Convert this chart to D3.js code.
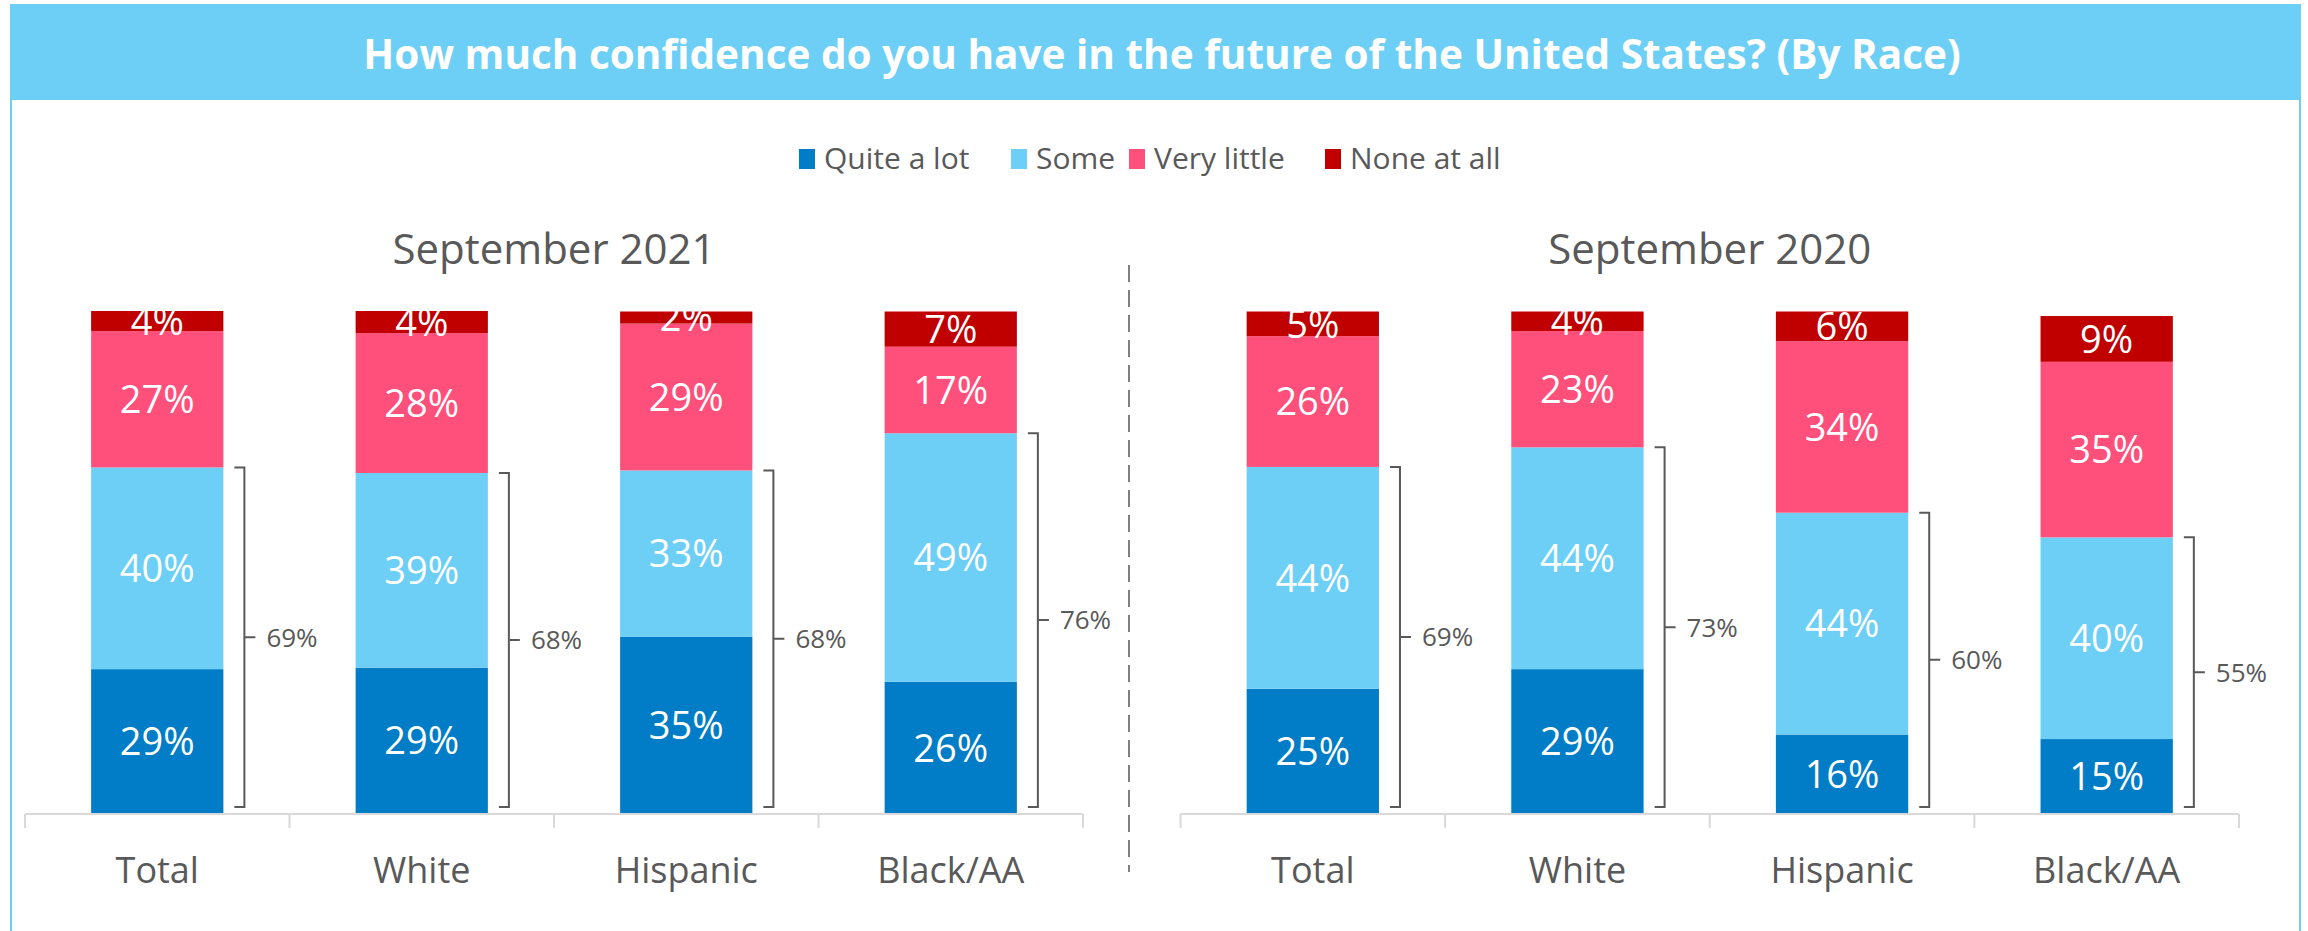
<!DOCTYPE html>
<html>
<head>
<meta charset="utf-8">
<script src="https://cdn.jsdelivr.net/npm/d3@7"></script>
<style>
  html, body { margin: 0; padding: 0; background: #ffffff; }
  svg { display: block; }
  text { font-family: "Open Sans", "Noto Sans", sans-serif; }
</style>
</head>
<body>
<svg id="chart" width="2308" height="931"></svg>
<script>
// ---- data ----
const title = "How much confidence do you have in the future of the United States? (By Race)";
const categories = ["Total", "White", "Hispanic", "Black/AA"];
const seriesNames = ["Quite a lot", "Some", "Very little", "None at all"];
const seriesColors = ["#007DC6", "#6DCFF6", "#FF4F7B", "#C00000"];
const panelTitles = ["September 2021", "September 2020"];

const quiteALot2021 = [28.8, 29.1, 35.2, 26.3];
const some2021      = [40.1, 38.7, 33.1, 49.4];
const veryLittle2021 = [27.1, 27.8, 29.2, 17.2];
const noneAtAll2021 = [4.0, 4.4, 2.4, 7.0];

const quiteALot2020 = [24.9, 28.8, 15.8, 14.9];
const some2020      = [44.1, 44.1, 44.1, 40.1];
const veryLittle2020 = [26.0, 23.1, 34.1, 34.9];
const noneAtAll2020 = [4.9, 3.9, 5.9, 9.1];

const panelSeries = [
  [quiteALot2021, some2021, veryLittle2021, noneAtAll2021],
  [quiteALot2020, some2020, veryLittle2020, noneAtAll2020]
];

// ---- layout ----
const svg = d3.select("#chart");
const W = 2308;
const gray = "#595959";

// frame
svg.append("line").attr("x1", 11).attr("x2", 11).attr("y1", 100).attr("y2", 931)
  .attr("stroke", "#6DCFF6").attr("stroke-width", 2);
svg.append("line").attr("x1", 2300).attr("x2", 2300).attr("y1", 100).attr("y2", 931)
  .attr("stroke", "#6DCFF6").attr("stroke-width", 2);

// title bar
svg.append("rect").attr("x", 10).attr("y", 4).attr("width", 2291).attr("height", 96).attr("fill", "#6DCFF6");
svg.append("text").attr("x", 1162).attr("y", 69).attr("text-anchor", "middle")
  .attr("fill", "#ffffff").attr("font-weight", 700).attr("font-size", 40.5).text(title);

// legend
const legendX = [799, 1011, 1129, 1325];
const leg = svg.append("g");
seriesNames.forEach((s, i) => {
  leg.append("rect").attr("x", legendX[i]).attr("y", 149).attr("width", 16).attr("height", 20)
    .attr("fill", seriesColors[i]);
  leg.append("text").attr("x", legendX[i] + 25).attr("y", 169).attr("font-size", 30)
    .attr("fill", gray).text(s);
});

// y scale (shared)
const y = d3.scaleLinear().domain([0, 100]).range([814, 311]);

const panelRanges = [[25, 1083], [1180.5, 2239]];

svg.append("defs").append("clipPath").attr("id", "plotclip")
  .append("rect").attr("x", 0).attr("y", y(100)).attr("width", W).attr("height", 931 - y(100));

panelRanges.forEach((rng, p) => {
  const x = d3.scaleBand().domain(categories).range(rng).paddingInner(0.5).paddingOuter(0.25);
  const g = svg.append("g");
  const cx = (rng[0] + rng[1]) / 2;

  // panel title
  g.append("text").attr("x", cx).attr("y", 264).attr("text-anchor", "middle")
    .attr("font-size", 42).attr("fill", gray).text(panelTitles[p]);

  // stacked data
  const rows = categories.map((c, i) => {
    const r = { cat: c };
    seriesNames.forEach((s, k) => r[s] = panelSeries[p][k][i]);
    return r;
  });
  const stacked = d3.stack().keys(seriesNames)(rows);

  const barsG = g.append("g");
  stacked.forEach((layer, k) => {
    barsG.selectAll(null).data(layer).enter().append("rect")
      .attr("x", d => x(d.data.cat))
      .attr("width", x.bandwidth())
      .attr("y", d => y(d[1]))
      .attr("height", d => y(d[0]) - y(d[1]))
      .attr("fill", seriesColors[k]);
  });

  // value labels (clipped to plot area)
  const labG = g.append("g").attr("clip-path", "url(#plotclip)");
  stacked.forEach((layer, k) => {
    labG.selectAll(null).data(layer).enter().append("text")
      .attr("x", d => x(d.data.cat) + x.bandwidth() / 2)
      .attr("y", d => (y(d[0]) + y(d[1])) / 2)
      .attr("dy", "0.36em")
      .attr("text-anchor", "middle")
      .attr("font-size", 38)
      .attr("fill", "#ffffff")
      .text(d => Math.round(d[1] - d[0]) + "%");
  });

  // axis
  const axisY = y(0);
  const step = x.step();
  g.append("line").attr("x1", rng[0]).attr("x2", rng[1]).attr("y1", axisY).attr("y2", axisY)
    .attr("stroke", "#D9D9D9").attr("stroke-width", 2);
  g.selectAll(null).data(d3.range(categories.length + 1)).enter().append("line")
    .attr("x1", i => rng[0] + i * step).attr("x2", i => rng[0] + i * step)
    .attr("y1", axisY).attr("y2", axisY + 14)
    .attr("stroke", "#D9D9D9").attr("stroke-width", 2);

  const ax = g.append("g").attr("transform", `translate(0,${axisY})`)
    .call(d3.axisBottom(x).tickSize(0));
  ax.select(".domain").remove();
  ax.selectAll("text").attr("y", 69).attr("dy", null)
    .attr("font-size", 36).attr("fill", gray)
    .style("font-family", '"Open Sans", "Noto Sans", sans-serif');

  // brackets (Quite a lot + Some)
  categories.forEach((c, i) => {
    const top2 = panelSeries[p][0][i] + panelSeries[p][1][i];
    const xr = x(c) + x.bandwidth();
    const yt = y(top2), yb = y(0) - 7, ym = (yt + yb) / 2;
    const vx = xr + 21;
    g.append("path")
      .attr("d", `M${xr + 11},${yt}H${vx}V${yb}H${xr + 11}M${vx},${ym}H${vx + 11}`)
      .attr("fill", "none").attr("stroke", gray).attr("stroke-width", 2);
    g.append("text").attr("x", vx + 22).attr("y", ym).attr("dy", "0.36em")
      .attr("font-size", 26).attr("fill", gray)
      .text(Math.round(top2) + "%");
  });
});

// divider
svg.append("line").attr("x1", 1129).attr("x2", 1129).attr("y1", 265).attr("y2", 872)
  .attr("stroke", "#7F7F7F").attr("stroke-width", 2).attr("stroke-dasharray", "17,8");
</script>
</body>
</html>
